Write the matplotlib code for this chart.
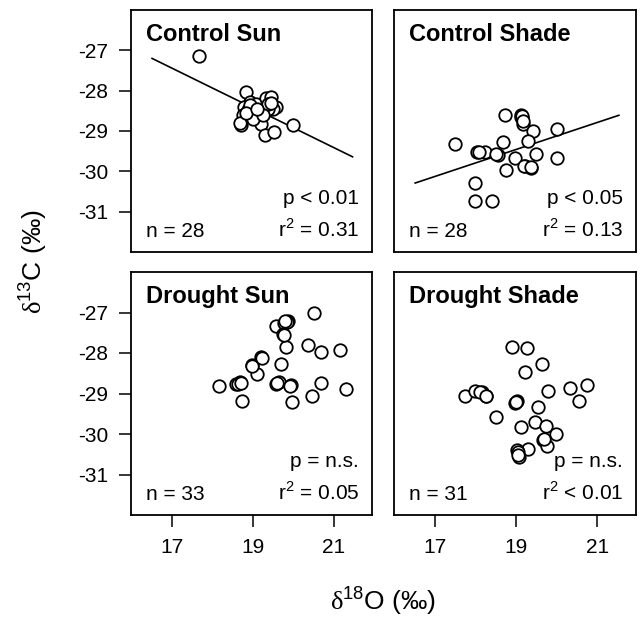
import matplotlib
matplotlib.use("Agg")
import matplotlib.pyplot as plt

plt.rcParams['font.family'] = ['Liberation Sans', 'DejaVu Sans']
plt.rcParams['mathtext.fontset'] = 'custom'
plt.rcParams['mathtext.rm'] = 'Liberation Sans'
plt.rcParams['mathtext.sf'] = 'Liberation Serif'
plt.rcParams['axes.unicode_minus'] = False

# ---- data ----
cs_x = [17.68, 18.83, 18.94, 19.09, 19.34, 19.46, 19.58, 19.50, 19.38, 18.80,
        18.88, 19.05, 18.76, 18.72, 18.70, 19.21, 19.30, 19.54, 19.99, 19.17,
        19.38, 18.90, 19.00, 19.25, 18.95, 19.45, 18.85, 19.12]
cs_y = [-27.14, -28.04, -28.29, -28.34, -28.19, -28.16, -28.41, -28.45, -28.45, -28.41,
        -28.57, -28.57, -28.61, -28.86, -28.80, -28.82, -29.10, -29.02, -28.86, -28.57,
        -28.33, -28.49, -28.70, -28.60, -28.35, -28.30, -28.55, -28.45]
cs_fit_x = [16.52, 21.47]
cs_fit_y = [-27.20, -29.64]

csh_x = [17.50, 18.03, 18.24, 18.55, 18.69, 18.73, 19.13, 19.15, 19.17, 19.41,
         19.29, 19.48, 18.98, 19.21, 19.38, 18.75, 20.01, 20.01, 17.99, 17.99,
         18.42, 19.12, 18.10, 19.14, 18.52, 19.20, 19.37, 19.16]
csh_y = [-29.31, -29.53, -29.53, -29.59, -29.27, -28.61, -28.61, -28.69, -28.82, -29.00,
         -29.25, -29.57, -29.66, -29.88, -29.92, -29.96, -28.96, -29.66, -30.29, -30.74,
         -30.74, -28.65, -29.53, -28.64, -29.58, -29.86, -29.90, -28.75]
csh_fit_x = [16.52, 21.53]
csh_fit_y = [-30.29, -28.61]

ds_x = [18.17, 18.59, 18.70, 18.74, 18.98, 19.22, 19.12, 19.57, 19.66, 19.70,
        19.94, 19.97, 19.58, 19.78, 19.88, 19.76, 19.82, 20.38, 20.52, 20.69,
        21.16, 20.68, 20.46, 21.32, 18.65, 19.85, 19.60, 19.92, 18.72, 19.77,
        18.98, 19.23, 19.80]
ds_y = [-28.82, -28.77, -28.72, -29.19, -28.29, -28.10, -28.52, -28.76, -28.72, -28.26,
        -28.80, -29.21, -27.34, -27.25, -27.22, -27.53, -27.84, -27.81, -27.02, -27.98,
        -27.92, -28.74, -29.07, -28.89, -28.77, -27.24, -28.74, -28.81, -28.73, -27.55,
        -28.31, -28.12, -27.22]

dsh_x = [18.91, 19.28, 19.63, 19.23, 17.74, 17.99, 18.17, 18.27, 18.52, 18.97,
         19.03, 19.79, 20.33, 20.75, 20.55, 19.55, 19.46, 19.12, 19.73, 19.98,
         19.67, 19.75, 19.30, 19.03, 19.08, 18.11, 19.00, 19.70, 19.05, 19.06,
         18.26]
dsh_y = [-27.85, -27.88, -28.26, -28.48, -29.07, -28.95, -28.97, -29.07, -29.59, -29.23,
         -29.19, -28.95, -28.86, -28.78, -29.18, -29.34, -29.71, -29.83, -29.81, -29.99,
         -30.14, -30.30, -30.37, -30.40, -30.56, -28.96, -29.21, -30.12, -30.44, -30.52,
         -29.05]

titles = ["Control Sun", "Control Shade", "Drought Sun", "Drought Shade"]
n_labels = ["n = 28", "n = 28", "n = 33", "n = 31"]
p_labels = ["p < 0.01", "p < 0.05", "p = n.s.", "p = n.s."]
r_labels = [r"r$^{2}$ = 0.31", r"r$^{2}$ = 0.13", r"r$^{2}$ = 0.05", r"r$^{2}$ < 0.01"]
x_ticks = [17, 19, 21]
y_ticks = [-27, -28, -29, -30, -31]

series_x = [cs_x, csh_x, ds_x, dsh_x]
series_y = [cs_y, csh_y, ds_y, dsh_y]
fits = [(cs_fit_x, cs_fit_y), (csh_fit_x, csh_fit_y), None, None]

# ---- layout ----
W, H = 640, 617
fig = plt.figure(figsize=(W / 100, H / 100), dpi=100)
cols = [(131, 372), (394, 636)]
rows = [(10, 252), (272, 515)]

for i in range(4):
    r, c = divmod(i, 2)
    x0, x1 = cols[c]
    y0, y1 = rows[r]
    ax = fig.add_axes([x0 / W, 1 - y1 / H, (x1 - x0) / W, (y1 - y0) / H])
    ax.set_xlim(16.0, 21.95)
    ax.set_ylim(-32.0, -26.0)
    for s in ax.spines.values():
        s.set_linewidth(1.3)
    if fits[i] is not None:
        ax.plot(fits[i][0], fits[i][1], color='black', lw=1.2, zorder=2)
    ax.plot(series_x[i], series_y[i], 'o', ms=9, mfc='white', mec='black',
            mew=1.3, zorder=3)
    ax.set_xticks(x_ticks)
    ax.set_yticks(y_ticks)
    ax.tick_params(direction='out', length=8.5, width=1.1, labelsize=15, pad=8)
    if c != 0:
        ax.tick_params(axis='y', left=False, labelleft=False)
    if r != 1:
        ax.tick_params(axis='x', bottom=False, labelbottom=False)
    ax.text(0.062, 0.872, titles[i], transform=ax.transAxes, fontsize=17,
            fontweight='bold', ha='left', va='baseline')
    ax.text(0.062, 0.062, n_labels[i], transform=ax.transAxes, fontsize=15,
            ha='left', va='baseline')
    ax.text(0.946, 0.198, p_labels[i], transform=ax.transAxes, fontsize=15,
            ha='right', va='baseline')
    ax.text(0.946, 0.062, r_labels[i], transform=ax.transAxes, fontsize=15,
            ha='right', va='baseline')

fig.text(383 / W, 1 - 601 / H, r"$\mathsf{\delta}^{\mathrm{18}}$O (‰)",
         fontsize=19, ha='center', va='center')
fig.text(33 / W, 1 - 262 / H, r"$\mathsf{\delta}^{\mathrm{13}}$C (‰)",
         fontsize=19, ha='center', va='center', rotation=90)

fig.savefig("out.png", dpi=100)
